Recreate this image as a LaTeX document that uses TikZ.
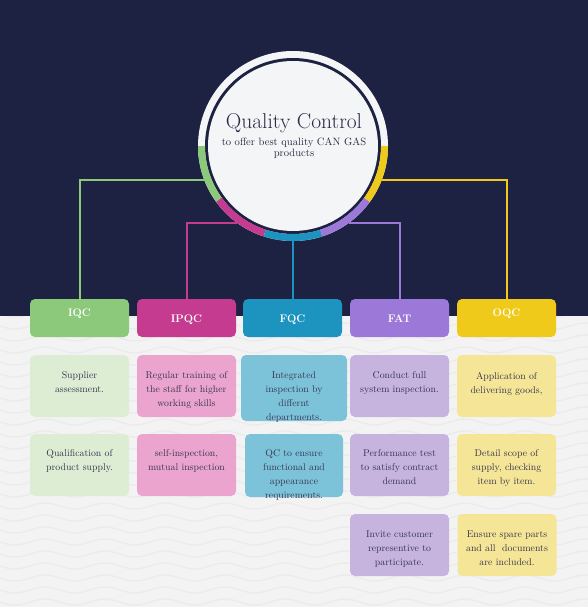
\documentclass[tikz,border=0pt]{standalone}
\usepackage{tikz}
\usetikzlibrary{positioning}

\definecolor{navy}{HTML}{1E2242}
\definecolor{paper}{HTML}{F3F3F4}
\definecolor{wavegray}{HTML}{EBEBED}
\definecolor{ringwhite}{HTML}{F4F5F7}
\definecolor{ink}{HTML}{35354F}
\definecolor{titleink}{HTML}{2A2B45}
\definecolor{cgreen}{HTML}{8CC97B}
\definecolor{lgreen}{HTML}{DDEDD3}
\definecolor{cmagenta}{HTML}{C43B8F}
\definecolor{lmagenta}{HTML}{EBA4CD}
\definecolor{cblue}{HTML}{1D93BF}
\definecolor{lblue}{HTML}{7CC3D9}
\definecolor{cpurple}{HTML}{9C79D9}
\definecolor{lpurple}{HTML}{C6B3DE}
\definecolor{cyellow}{HTML}{F0CA1B}
\definecolor{lyellow}{HTML}{F5E596}

\tikzset{
    hdr/.style={rounded corners=5pt, minimum width=99pt, minimum height=38pt, fill=#1, text=white,
        font=\bfseries\fontsize{11}{12}\selectfont, text height=8pt, text depth=0pt, inner sep=0pt, outer sep=0pt},
    item/.style={rounded corners=5pt, minimum width=99pt, minimum height=62pt, fill=#1, inner sep=0pt},
    itemtext/.style={text=ink, align=center, font=\fontsize{9.8}{14}\selectfont, inner sep=0pt, anchor=north, yshift=-17pt},
    link/.style={draw=#1, line width=2pt},
    wave/.style={draw=wavegray, line width=1.3pt},
}

\begin{document}
\begin{tikzpicture}[x=1pt, y=-1pt]
    \useasboundingbox (0,0) rectangle (588,607);
    % background
    \fill[navy] (0,0) rectangle (588,316);
    \begin{scope}
        \clip (0,316) rectangle (588,607);
        \fill[paper] (0,316) rectangle (588,607);
        \foreach \k in {0,...,25}
            \draw[wave] plot[domain=0:588, samples=80, smooth] (\x, {314 + 12*\k + 3*sin(6*\x)});
    \end{scope}

    % centre circle
    \node[circle, minimum size=190pt, fill=ringwhite, inner sep=0pt, outer sep=0pt] (qc) at (293,146) {};
    \fill[navy] (qc.center) circle (88);
    \fill[ringwhite] (qc.center) circle (85);
    \draw[cgreen, line width=7pt] (qc.center) ++(180:91.5) arc (180:144:91.5);
    \draw[cmagenta, line width=7pt] (qc.center) ++(144:91.5) arc (144:108:91.5);
    \draw[cblue, line width=7pt] (qc.center) ++(108:91.5) arc (108:72:91.5);
    \draw[cpurple, line width=7pt] (qc.center) ++(72:91.5) arc (72:36:91.5);
    \draw[cyellow, line width=7pt] (qc.center) ++(36:91.5) arc (36:0:91.5);

    \node[text=titleink, font=\fontsize{21.5}{24}\selectfont, inner sep=0pt] (ttl) at (294,123.5) {Quality Control};
    \node[text=titleink, font=\fontsize{10.6}{11}\selectfont, align=center, inner sep=0pt, below=4.5pt of ttl] (sub) {to offer best quality CAN GAS\\products};

    % headers
    \node[hdr=cgreen, text depth=12pt] (iqc) at (79.5,318) {IQC};
    \node[hdr=cmagenta] (ipqc) at (186.5,318) {IPQC};
    \node[hdr=cblue] (fqc) at (292.5,318) {FQC};
    \node[hdr=cpurple] (fat) at (399.5,318) {FAT};
    \node[hdr=cyellow, text depth=12pt] (oqc) at (506.5,318) {OQC};

    % connectors
    \draw[link=cgreen] (iqc.north) |- (qc.201);
    \draw[link=cmagenta] (ipqc.north) |- (qc.234);
    \draw[link=cblue] (fqc.north) -- (fqc.north |- qc.south);
    \draw[link=cpurple] (fat.north) |- (qc.306);
    \draw[link=cyellow] (oqc.north) |- (qc.339);

    % IQC
    \node[item=lgreen, label={[itemtext]north:{Supplier\\assessment.}}] (iqc1) at (79.5,386) {};
    \node[item=lgreen, label={[itemtext, yshift=1pt]north:{Qualification of\\product supply.}}] (iqc2) at (79.5,465) {};
    % IPQC
    \node[item=lmagenta, label={[itemtext]north:{Regular training of\\the staff for higher\\working skills}}] (ipqc1) at (186.5,386) {};
    \node[item=lmagenta, label={[itemtext, yshift=1pt]north:{self-inspection,\\mutual inspection}}] (ipqc2) at (186.5,465) {};
    % FQC
    \node[item=lblue, minimum width=106pt, minimum height=66pt, label={[itemtext]north:{Integrated\\inspection by\\differnt\\departments.}}] (fqc1) at (294,388) {};
    \node[item=lblue, minimum width=98pt, minimum height=63pt, label={[itemtext, yshift=1pt]north:{QC to ensure\\functional and\\appearance\\requirements.}}] (fqc2) at (294,465.5) {};
    % FAT
    \node[item=lpurple, label={[itemtext]north:{Conduct full\\system inspection.}}] (fat1) at (399.5,386) {};
    \node[item=lpurple, label={[itemtext, yshift=1pt]north:{Performance test\\to satisfy contract\\demand}}] (fat2) at (399.5,465) {};
    \node[item=lpurple, label={[itemtext]north:{Invite customer\\representive to\\participate.}}] (fat3) at (399.5,545) {};
    % OQC
    \node[item=lyellow, label={[itemtext]north:{Application of\\delivering goods,}}] (oqc1) at (506.5,386) {};
    \node[item=lyellow, label={[itemtext, yshift=1pt]north:{Detail scope of\\supply, checking\\item by item.}}] (oqc2) at (506.5,465) {};
    \node[item=lyellow, label={[itemtext]north:{Ensure spare parts\\and all\ \ documents\\are included.}}] (oqc3) at (507,545) {};
\end{tikzpicture}
\end{document}
